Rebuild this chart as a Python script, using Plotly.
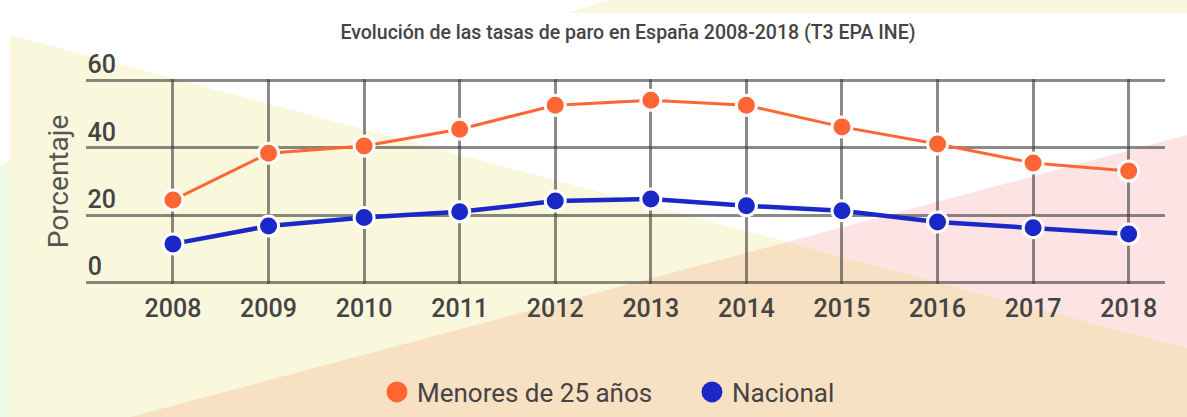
import plotly.graph_objects as go

years = [2008, 2009, 2010, 2011, 2012, 2013, 2014, 2015, 2016, 2017, 2018]
menores_25 = [24.5, 38.4, 40.5, 45.5, 52.6, 54.1, 52.6, 46.2, 41.1, 35.5, 33.1]
nacional = [11.5, 16.8, 19.3, 21.0, 24.2, 24.8, 22.8, 21.3, 18.0, 16.3, 14.4]
y_ticks = [0, 20, 40, 60]
y_ticktext = ["0\u2007", "20", "40", "60"]
series_names = ["Menores de 25 años", "Nacional"]
series_colors = ["#FF6633", "#1A28C8"]
title_text = "Evolución de las tasas de paro en España 2008-2018 (T3 EPA INE)"
y_title = "Porcentaje"

W, H = 1187, 417
L, R, T, B = 86, 1165, 79, 284


def P(px, py):
    return (px - L) / (R - L), (B - py) / (B - T)


def poly(points, color):
    path = ""
    for i, (px, py) in enumerate(points):
        x, y = P(px, py)
        path += ("M" if i == 0 else "L") + f"{x:.5f},{y:.5f} "
    path += "Z"
    return dict(type="path", xref="paper", yref="paper", path=path,
                fillcolor=color, line=dict(width=0), layer="below")


shapes = [
    poly([(0, 165), (10, 160), (10, 417), (0, 417)], "#F0FBE4"),
    poly([(10, 35), (787, 242), (130, 417), (10, 417)], "#F9F7DC"),
    poly([(787, 242), (1187, 135), (1187, 348)], "#FDE3E4"),
    poly([(130, 417), (787, 242), (1187, 348), (1187, 417)], "#F8E0C2"),
    poly([(567, 13), (610, 0), (1187, 0), (1187, 13)], "#F9F7DC"),
]

fig = go.Figure()
for name, vals, col, lw in [(series_names[0], menores_25, series_colors[0], 3),
                            (series_names[1], nacional, series_colors[1], 4.5)]:
    fig.add_trace(go.Scatter(
        x=years, y=vals, mode="lines+markers", name=name, showlegend=False,
        line=dict(color=col, width=lw),
        marker=dict(size=20, color=col, line=dict(color="white", width=3)),
        hoverinfo="x+y"))
for name, col in zip(series_names, series_colors):
    fig.add_trace(go.Scatter(
        x=[None], y=[None], mode="markers", name=name,
        marker=dict(size=30, color=col, line=dict(color=col, width=5))))

grid_col = "rgba(60,60,60,0.6)"
fig.update_layout(
    width=W, height=H,
    margin=dict(l=L, r=W - R, t=T, b=H - B, pad=0, autoexpand=False),
    paper_bgcolor="white", plot_bgcolor="rgba(0,0,0,0)",
    shapes=shapes,
    font=dict(family="Roboto, sans-serif", color="#444"),
    title=dict(text=title_text, x=628 / W, y=1 - 32 / H, xanchor="center",
               yanchor="middle", xref="container", yref="container",
               font=dict(size=19.5, color="#444", family="Roboto, sans-serif", weight=500)),
    xaxis=dict(range=[2007.09, 2018.38], tickmode="array", tickvals=years,
               ticktext=[str(y) for y in years], showgrid=True, gridcolor=grid_col,
               gridwidth=2.5, zeroline=False, showline=False, ticks="",
               ticklabelstandoff=7,
               tickfont=dict(size=25, color="#444", weight=500), fixedrange=True),
    yaxis=dict(range=[-0.4, 60.4], tickmode="array", tickvals=y_ticks,
               ticktext=y_ticktext,
               showgrid=True, gridcolor=grid_col, gridwidth=2.5, zeroline=False,
               showline=False, ticks="", ticklabelposition="outside",
               ticklabelstandoff=-31, ticklabelshift=-16,
               tickfont=dict(size=25, color="#444", weight=500),
               title=dict(text=y_title, standoff=10,
                          font=dict(size=28, color="#555")), fixedrange=True),
    legend=dict(orientation="h", x=0.5616, xanchor="center", y=P(0, 392)[1],
                yanchor="middle", bgcolor="rgba(0,0,0,0)", entrywidth=270,
                font=dict(size=26, color="#444"), itemsizing="trace"),
)

fig.write_html("out.html")
